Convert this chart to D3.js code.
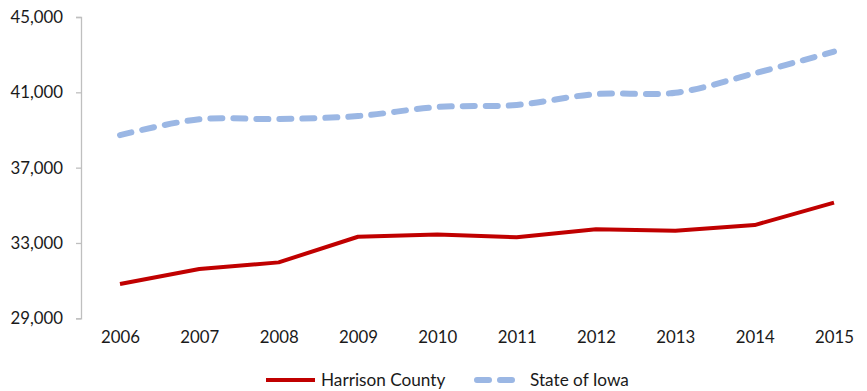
<!DOCTYPE html>
<html>
<head>
<meta charset="utf-8">
<script src="https://cdn.jsdelivr.net/npm/d3@7/dist/d3.min.js"></script>
<style>
  html, body { margin: 0; padding: 0; background: #fff; }
  svg text { font-family: Lato, "Open Sans", "Liberation Sans", sans-serif; fill: #1a1a1a; }
</style>
</head>
<body>
<svg id="chart" width="867" height="391"></svg>
<script>
// Median household income, 2006–2015
const years = [2006, 2007, 2008, 2009, 2010, 2011, 2012, 2013, 2014, 2015];
const harrisonCounty = [30820, 31620, 31970, 33330, 33450, 33300, 33730, 33650, 33950, 35140];
const stateOfIowa = [38730, 39570, 39580, 39740, 40220, 40330, 40910, 40980, 42010, 43160];
const yTicks = [29000, 33000, 37000, 41000, 45000];
const seriesNames = ["Harrison County", "State of Iowa"];

const svg = d3.select("#chart");
const margin = { left: 81 };

const x = d3.scalePoint().domain(years).range([120, 834]);
const y = d3.scaleLinear().domain([29000, 45000]).range([318.3, 17]);

// Y axis
const yAxis = d3.axisLeft(y).tickValues(yTicks).tickSize(5).tickPadding(13)
  .tickFormat(d3.format(","));
const gy = svg.append("g").attr("transform", `translate(${margin.left},0)`).call(yAxis);
gy.select(".domain").attr("stroke", "#bfbfbf").attr("stroke-width", 1.3);
gy.selectAll(".tick line").attr("stroke", "#bfbfbf").attr("stroke-width", 1.3);
gy.selectAll(".tick text").attr("font-size", 16.8).attr("fill", "#1a1a1a");

// X axis labels (no axis line)
const xAxis = d3.axisBottom(x).tickSize(0).tickPadding(0);
const gx = svg.append("g").attr("transform", "translate(0,331)").call(xAxis);
gx.select(".domain").remove();
gx.selectAll(".tick text").attr("font-size", 16.8).attr("dy", "0.71em").attr("fill", "#1a1a1a");

// Series
const lineStraight = d3.line().x((d, i) => x(years[i])).y(d => y(d));
const lineSmooth = d3.line().x((d, i) => x(years[i])).y(d => y(d)).curve(d3.curveCatmullRom.alpha(0.5));

svg.append("path").datum(stateOfIowa)
  .attr("d", lineSmooth)
  .attr("fill", "none")
  .attr("stroke", "#9bb7e4")
  .attr("stroke-width", 6)
  .attr("stroke-linecap", "round")
  .attr("stroke-dasharray", "12,11");

svg.append("path").datum(harrisonCounty)
  .attr("d", lineStraight)
  .attr("fill", "none")
  .attr("stroke", "#c00000")
  .attr("stroke-width", 4)
  .attr("stroke-linejoin", "round");

// Legend
const legend = svg.append("g");
legend.append("line").attr("x1", 266).attr("x2", 315).attr("y1", 380).attr("y2", 380)
  .attr("stroke", "#c00000").attr("stroke-width", 4);
legend.append("text").attr("x", 321).attr("y", 386).attr("font-size", 17.2).text(seriesNames[0]);
legend.append("line").attr("x1", 477).attr("x2", 522).attr("y1", 380).attr("y2", 380)
  .attr("stroke", "#9bb7e4").attr("stroke-width", 6).attr("stroke-linecap", "round")
  .attr("stroke-dasharray", "12,11");
legend.append("text").attr("x", 530).attr("y", 386).attr("font-size", 17.2).text(seriesNames[1]);
</script>
</body>
</html>
